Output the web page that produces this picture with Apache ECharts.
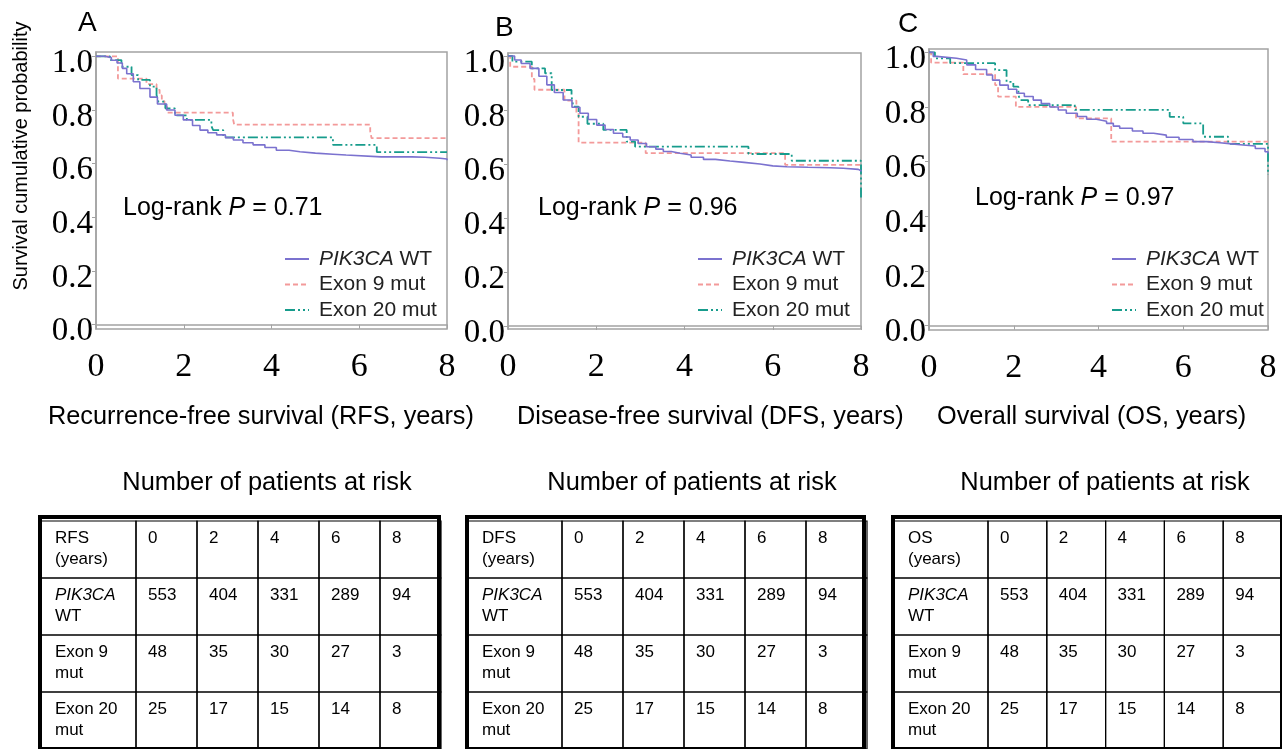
<!DOCTYPE html>
<html><head><meta charset="utf-8">
<script src="https://cdn.jsdelivr.net/npm/echarts@6/dist/echarts.min.js"></script>
<style>html,body{margin:0;padding:0;background:#fff}#c{width:1282px;height:749px}</style>
</head><body><div id="c"></div>
<script>
// ---------------- data ----------------
const seriesNames = ['PIK3CA WT', 'Exon 9 mut', 'Exon 20 mut'];
const panelLetters = ['A', 'B', 'C'];
const xTitles = ['Recurrence-free survival (RFS, years)', 'Disease-free survival (DFS, years)', 'Overall survival (OS, years)'];
const pValues = ['0.71', '0.96', '0.97'];
const endpoints = ['RFS', 'DFS', 'OS'];
const years = [0, 2, 4, 6, 8];
const yTicks = [0, 0.2, 0.4, 0.6, 0.8, 1.0];
const tableTitle = 'Number of patients at risk';
const atRiskWT = [553, 404, 331, 289, 94];
const atRiskExon9 = [48, 35, 30, 27, 3];
const atRiskExon20 = [25, 17, 15, 14, 8];

// Kaplan-Meier curves: [time (years), survival]
const rfsWT = [[0,1],[0.2,0.995],[0.35,0.985],[0.48,0.975],[0.6,0.955],[0.7,0.935],[0.85,0.905],[1.0,0.88],[1.23,0.848],[1.4,0.822],[1.61,0.80],[1.8,0.78],[1.99,0.763],[2.2,0.742],[2.37,0.725],[2.55,0.715],[2.75,0.707],[2.95,0.697],[3.13,0.688],[3.35,0.678],[3.58,0.67],[3.85,0.66],[4.11,0.65],[4.4,0.644],[4.65,0.639],[5.0,0.635],[5.4,0.632],[5.7,0.625],[6.5,0.625],[7.2,0.624],[7.5,0.62],[7.84,0.617],[8,0.613]];
const rfsExon9 = [[0,1],[0.5,0.917],[1.15,0.896],[1.38,0.875],[1.45,0.854],[1.5,0.833],[1.56,0.812],[1.62,0.79],[3.12,0.768],[3.15,0.745],[6.25,0.72],[6.28,0.695],[8,0.695]];
const rfsExon20 = [[0,1],[0.32,0.986],[0.58,0.961],[0.81,0.93],[0.96,0.912],[1.23,0.887],[1.38,0.856],[1.42,0.831],[1.58,0.806],[1.8,0.78],[2.07,0.763],[2.63,0.74],[2.67,0.725],[2.9,0.698],[5.4,0.67],[6.4,0.643],[8,0.643]];
const dfsWT = [[0,1],[0.15,0.985],[0.3,0.972],[0.5,0.954],[0.7,0.925],[0.88,0.893],[1.05,0.865],[1.25,0.837],[1.45,0.81],[1.63,0.788],[1.82,0.765],[2.01,0.744],[2.2,0.728],[2.39,0.714],[2.6,0.70],[2.77,0.689],[2.95,0.676],[3.14,0.664],[3.35,0.655],[3.52,0.646],[3.7,0.64],[3.9,0.633],[4.15,0.625],[4.43,0.617],[4.7,0.611],[5.03,0.606],[5.35,0.6],[5.71,0.593],[6.0,0.59],[6.32,0.588],[6.8,0.586],[7.3,0.584],[7.6,0.58],[7.94,0.575],[8,0.572]];
const dfsExon9 = [[0,1],[0.05,0.96],[0.54,0.915],[0.6,0.875],[1.28,0.835],[1.55,0.79],[1.6,0.679],[3.12,0.64],[6.28,0.597],[8,0.597]];
const dfsExon20 = [[0,1],[0.1,0.979],[0.54,0.954],[0.84,0.936],[0.99,0.874],[1.44,0.85],[1.48,0.812],[1.6,0.775],[1.8,0.749],[2.16,0.726],[2.69,0.683],[2.88,0.664],[5.45,0.637],[6.43,0.612],[8,0.467]];
const osWT = [[0,1],[0.1,0.985],[0.18,0.978],[0.65,0.972],[0.89,0.954],[1.1,0.937],[1.36,0.917],[1.5,0.898],[1.67,0.88],[1.87,0.865],[2.07,0.85],[2.25,0.838],[2.46,0.825],[2.65,0.812],[2.85,0.80],[3.05,0.789],[3.24,0.777],[3.5,0.765],[3.72,0.755],[3.95,0.748],[4.19,0.74],[4.35,0.73],[4.5,0.722],[4.8,0.712],[5.05,0.704],[5.3,0.697],[5.6,0.689],[5.9,0.681],[6.23,0.673],[6.55,0.669],[6.86,0.665],[7.15,0.661],[7.41,0.657],[7.7,0.648],[7.93,0.636],[8,0.63]];
const osExon9 = [[0,1],[0.05,0.962],[0.81,0.92],[1.56,0.88],[1.63,0.838],[2.05,0.8],[3.47,0.758],[4.3,0.673],[8,0.673]];
const osExon20 = [[0,1],[0.14,0.978],[0.5,0.96],[1.56,0.935],[1.83,0.892],[1.99,0.874],[2.11,0.844],[2.15,0.825],[2.34,0.807],[3.44,0.789],[5.68,0.764],[6.0,0.74],[6.47,0.691],[7.06,0.665],[8,0.551]];

const curves = [[rfsWT, rfsExon9, rfsExon20], [dfsWT, dfsExon9, dfsExon20], [osWT, osExon9, osExon20]];

// ---------------- layout & style ----------------
const SANS = '"Liberation Sans", Arial, sans-serif';
const SERIF = '"Liberation Serif", "Times New Roman", serif';
const plotLayout = [
  {left: 96, top: 52, width: 351, height: 277, yMin: -0.0164, yMax: 1.016, letter: [78, 9], pv: [123, 196], legend: 279, xt: 48},
  {left: 508, top: 53, width: 353, height: 276, yMin: -0.011, yMax: 1.011, letter: [495, 14], pv: [538, 196], legend: 692, xt: 517},
  {left: 929, top: 49, width: 339, height: 281, yMin: -0.016, yMax: 1.012, letter: [898, 10], pv: [975, 186], legend: 1106, xt: 937}
];
const tableLayout = [
  {left: 40, headW: 96, bodyW: 305, outerW: 399, title: 267},
  {left: 467, headW: 95, bodyW: 305, outerW: 397, title: 692},
  {left: 893, headW: 95, bodyW: 305, outerW: 401, title: 1105}
];
const lineStyles = [
  {color: '#7b72cf', width: 1.6, type: 'solid'},
  {color: '#f39a9a', width: 1.8, type: [5, 3]},
  {color: '#179c8c', width: 1.8, type: [10, 3, 2, 3, 2, 3]}
];

const grid = [], xAxis = [], yAxis = [], series = [], title = [], legend = [];

plotLayout.forEach((L, p) => {
  grid.push({left: L.left, top: L.top, width: L.width, height: L.height, show: true,
    borderColor: '#a3a3a3', borderWidth: 1.5, backgroundColor: '#fff'});
  xAxis.push({gridIndex: p, type: 'value', min: 0, max: 8, interval: 2,
    axisLine: {show: true, lineStyle: {color: '#a3a3a3', width: 1.5}},
    axisTick: {show: true, length: 4, lineStyle: {color: '#a3a3a3'}},
    axisLabel: {fontFamily: SERIF, fontSize: 34, color: '#000', margin: 21},
    splitLine: {show: false}});
  yAxis.push({gridIndex: p, type: 'value', min: L.yMin, max: L.yMax,
    axisLine: {show: true, lineStyle: {color: '#a3a3a3', width: 1.5}},
    axisTick: {show: true, length: 4, customValues: yTicks, lineStyle: {color: '#a3a3a3'}},
    axisLabel: {customValues: yTicks, formatter: v => Number(v).toFixed(1), fontFamily: SERIF,
      fontSize: 33, color: '#000', margin: 3, verticalAlign: 'top', lineHeight: 14},
    splitLine: {show: false}});
  [1, 2, 0].forEach(k => {
    series.push({type: 'line', name: seriesNames[k], xAxisIndex: p, yAxisIndex: p,
      data: curves[p][k], step: 'end', symbol: 'none', showSymbol: false,
      lineStyle: lineStyles[k], itemStyle: {color: lineStyles[k].color}, silent: true,
      z: k === 0 ? 4 : 3});
  });
  title.push({text: panelLetters[p], left: L.letter[0], top: L.letter[1], padding: 0,
    textStyle: {fontFamily: SANS, fontSize: 28, fontWeight: 'normal', color: '#000', lineHeight: 28}});
  title.push({text: '{n|Log-rank }{i|P}{n| = ' + pValues[p] + '}', left: L.pv[0], top: L.pv[1], padding: 0,
    textStyle: {fontWeight: 'normal', rich: {
      n: {fontFamily: SANS, fontSize: 25, fontWeight: 'normal', color: '#000', lineHeight: 25},
      i: {fontFamily: SANS, fontSize: 25, fontWeight: 'normal', color: '#000', fontStyle: 'italic', lineHeight: 25}}}});
  title.push({text: xTitles[p], left: L.xt, top: 405, padding: 0,
    textStyle: {fontFamily: SANS, fontSize: 25.3, fontWeight: 'normal', color: '#000', lineHeight: 25}});
  legend.push({data: seriesNames.slice(), orient: 'vertical', left: L.legend, top: 243,
    itemWidth: 24, itemHeight: 14, itemGap: 3.5, selectedMode: false,
    itemStyle: {opacity: 0},
    formatter: n => n === 'PIK3CA WT' ? '{i|PIK3CA} WT' : n,
    textStyle: {fontFamily: SANS, fontSize: 21, color: '#222', lineHeight: 22, padding: [0, 0, 0, 5],
      rich: {i: {fontFamily: SANS, fontSize: 21, color: '#222', fontStyle: 'italic', lineHeight: 22}}}});
});

// ---------------- tables ----------------
const CELL_TOP = 521, CELL_H = 229, OUTER_TOP = 517;
function cellRenderer(texts, pad) {
  return function (params, api) {
    const c = api.coord([api.value(0), api.value(1)]);
    const s = api.size([1, 1]);
    const x0 = c[0] - s[0] / 2, y0 = c[1] - s[1] / 2;
    return {type: 'group', children: [
      {type: 'rect', shape: {x: x0, y: y0, width: s[0], height: s[1]},
        style: {fill: 'none', stroke: '#000', lineWidth: 1.2}},
      {type: 'text', x: x0 + pad, y: y0 + 7, style: {text: texts[params.dataIndex], fontSize: 17,
        fontFamily: SANS, fill: '#000', lineHeight: 21, align: 'left', verticalAlign: 'top',
        rich: {i: {fontStyle: 'italic', fontSize: 17, fontFamily: SANS, lineHeight: 21, fill: '#000'}}}}
    ]};
  };
}
tableLayout.forEach((T, t) => {
  title.push({text: tableTitle, left: T.title, top: 470, padding: 0, textAlign: 'center',
    textStyle: {fontFamily: SANS, fontSize: 25.4, fontWeight: 'normal', color: '#000', lineHeight: 25}});
  // outer thick frame
  const go = grid.length;
  grid.push({left: T.left, top: OUTER_TOP, width: T.outerW, height: 260, show: true,
    borderColor: '#000', borderWidth: 4, backgroundColor: 'transparent'});
  xAxis.push({gridIndex: go, type: 'value', min: 0, max: 1, show: false});
  yAxis.push({gridIndex: go, type: 'value', min: 0, max: 1, show: false});
  // header column
  const rowHeaders = [endpoints[t] + '\n(years)', '{i|PIK3CA}\nWT', 'Exon 9\nmut', 'Exon 20\nmut'];
  const gh = grid.length;
  grid.push({left: T.left, top: CELL_TOP, width: T.headW, height: CELL_H});
  xAxis.push({gridIndex: gh, type: 'category', data: ['group'], show: false});
  yAxis.push({gridIndex: gh, type: 'category', data: ['r0', 'r1', 'r2', 'r3'], inverse: true, show: false});
  series.push({type: 'custom', xAxisIndex: gh, yAxisIndex: gh, silent: true,
    data: rowHeaders.map((_, r) => [0, r]), encode: {x: 0, y: 1},
    renderItem: cellRenderer(rowHeaders, 15)});
  // value columns
  const rows = [years, atRiskWT, atRiskExon9, atRiskExon20];
  const gb = grid.length;
  grid.push({left: T.left + T.headW, top: CELL_TOP, width: T.bodyW, height: CELL_H});
  xAxis.push({gridIndex: gb, type: 'category', data: years.map(String), show: false});
  yAxis.push({gridIndex: gb, type: 'category', data: ['r0', 'r1', 'r2', 'r3'], inverse: true, show: false});
  const cells = [], texts = [];
  rows.forEach((row, r) => row.forEach((v, c) => { cells.push([c, r]); texts.push(String(v)); }));
  series.push({type: 'custom', xAxisIndex: gb, yAxisIndex: gb, silent: true,
    data: cells, encode: {x: 0, y: 1}, renderItem: cellRenderer(texts, 12)});
});

const option = {
  animation: false,
  backgroundColor: '#fff',
  grid, xAxis, yAxis, series, title, legend,
  graphic: [{type: 'text', x: 21, y: 156, rotation: Math.PI / 2,
    style: {text: 'Survival cumulative probability', fontSize: 20, fontFamily: SANS, fill: '#000',
      align: 'center', verticalAlign: 'middle', textAlign: 'center', textVerticalAlign: 'middle'}}]
};
const chart = echarts.init(document.getElementById('c'), null, {renderer: 'canvas'});
chart.setOption(option);
</script></body></html>
